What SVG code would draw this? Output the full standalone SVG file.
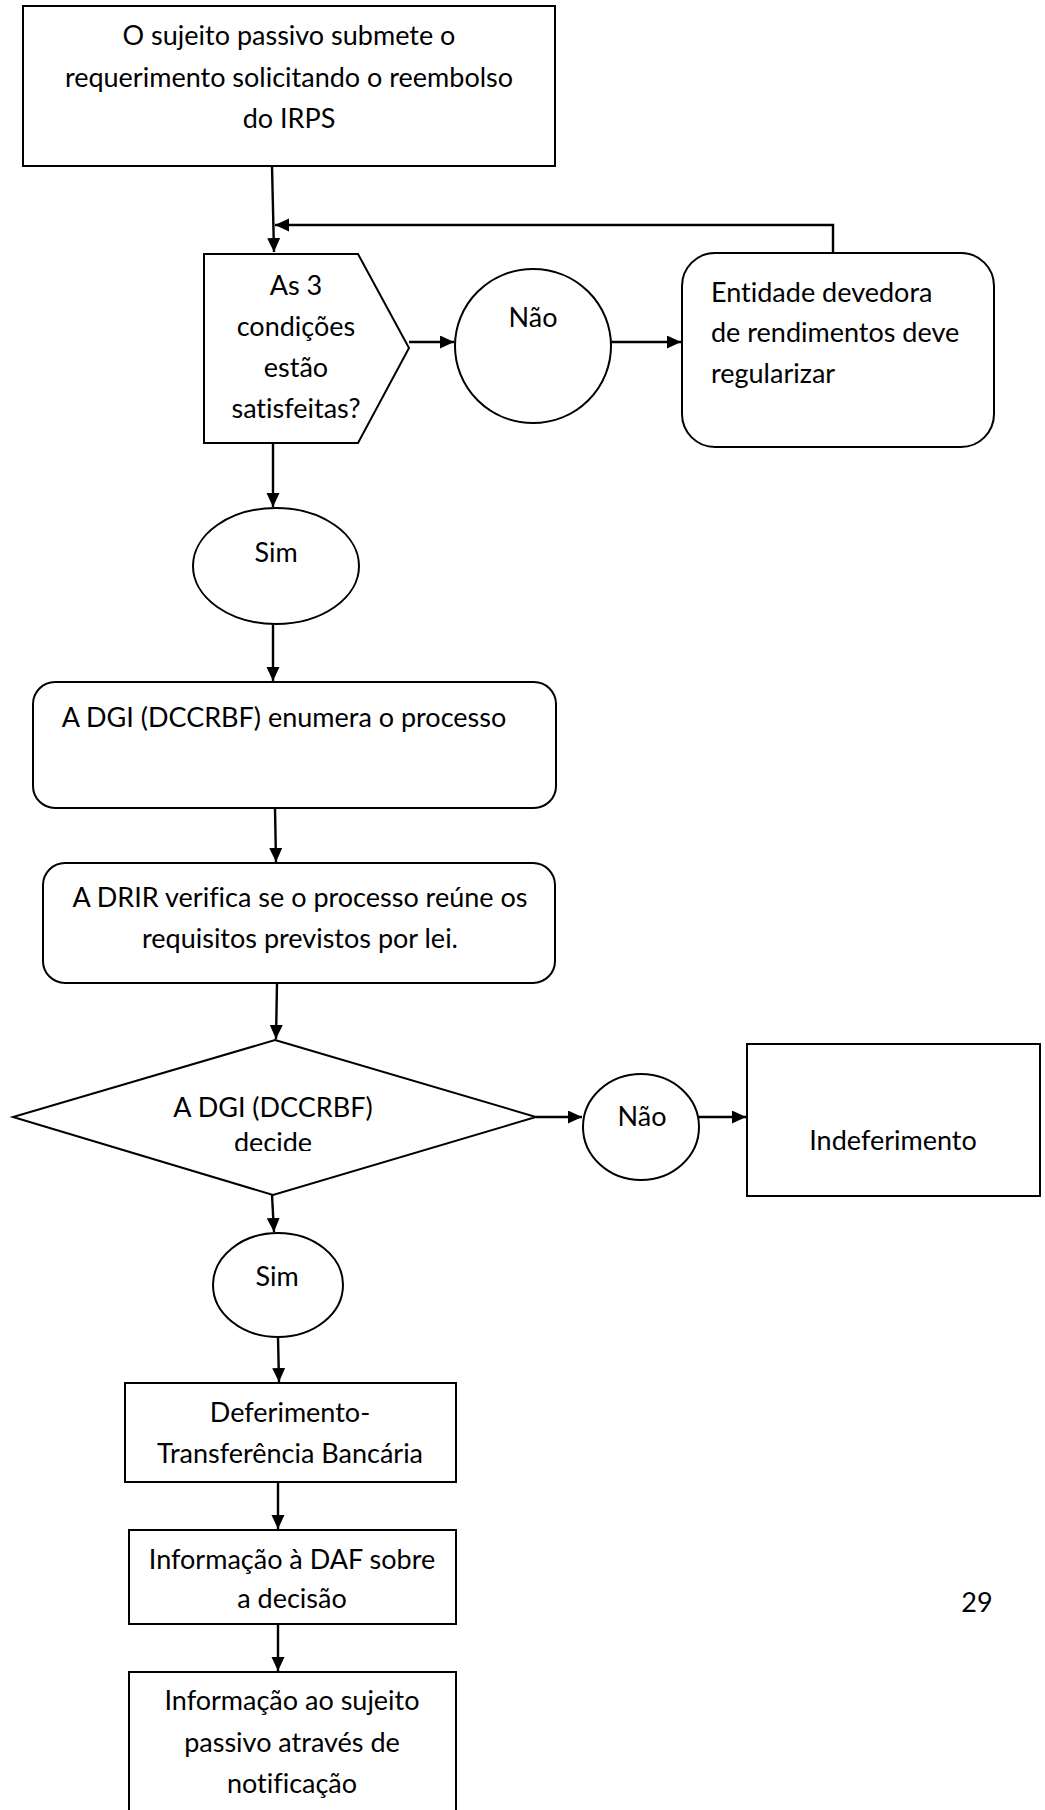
<svg xmlns="http://www.w3.org/2000/svg" width="1045" height="1810" viewBox="0 0 1045 1810">
<style>
.s{fill:#fff;stroke:#000;stroke-width:2}
.t{font-family:Lato,"Liberation Sans",sans-serif;font-size:27px;fill:#000;text-anchor:middle;font-variant-ligatures:none;font-feature-settings:"liga" 0}
.l{text-anchor:start}
.c{fill:none;stroke:#000;stroke-width:2.4}
</style>
<defs>
<marker id="ah" markerUnits="userSpaceOnUse" markerWidth="15" markerHeight="14" refX="14" refY="6.5" orient="auto">
<path d="M0,0 L14,6.5 L0,13 z" fill="#000"/>
</marker>
<clipPath id="clipDecide"><rect x="0" y="1080" width="560" height="71"/></clipPath>
</defs>
<rect width="1045" height="1810" fill="#fff"/>
<g id="connectors">
<path class="c" d="M272,166 L274,252" marker-end="url(#ah)"/>
<path class="c" d="M833,253 L833,225 L275,225" marker-end="url(#ah)"/>
<path class="c" d="M409,342 L454,342" marker-end="url(#ah)"/>
<path class="c" d="M611,342 L681,342" marker-end="url(#ah)"/>
<path class="c" d="M273,443 L273,507" marker-end="url(#ah)"/>
<path class="c" d="M273,623 L273,681" marker-end="url(#ah)"/>
<path class="c" d="M275,808 L276,862" marker-end="url(#ah)"/>
<path class="c" d="M277,983 L276,1039" marker-end="url(#ah)"/>
<path class="c" d="M536,1117 L582,1117" marker-end="url(#ah)"/>
<path class="c" d="M699,1117 L746,1117" marker-end="url(#ah)"/>
<path class="c" d="M272,1195 L274,1232" marker-end="url(#ah)"/>
<path class="c" d="M278,1337 L279,1382" marker-end="url(#ah)"/>
<path class="c" d="M278,1482 L278,1529" marker-end="url(#ah)"/>
<path class="c" d="M278,1624 L278,1671" marker-end="url(#ah)"/>
</g>
<g id="n1">
<rect class="s" x="23" y="6" width="532" height="160"/>
<text class="t" x="289" y="45">O sujeito passivo submete o</text>
<text class="t" x="289" y="87">requerimento solicitando o reembolso</text>
<text class="t" x="289" y="128">do IRPS</text>
</g>
<g id="n2">
<polygon class="s" points="204,254 358,254 409,348 358,443 204,443"/>
<text class="t" x="296" y="295">As 3</text>
<text class="t" x="296" y="336">condições</text>
<text class="t" x="296" y="377">estão</text>
<text class="t" x="296" y="418">satisfeitas?</text>
</g>
<g id="n3">
<ellipse class="s" cx="533" cy="346" rx="78" ry="77"/>
<text class="t" x="533" y="327">Não</text>
</g>
<g id="n4">
<rect class="s" x="682" y="253" width="312" height="194" rx="33"/>
<text class="t l" x="711" y="302">Entidade devedora</text>
<text class="t l" x="711" y="342">de rendimentos deve</text>
<text class="t l" x="711" y="383">regularizar</text>
</g>
<g id="n5">
<ellipse class="s" cx="276" cy="566" rx="83" ry="58"/>
<text class="t" x="276" y="562">Sim</text>
</g>
<g id="n6">
<rect class="s" x="33" y="682" width="523" height="126" rx="22"/>
<text class="t" x="284" y="727">A DGI (DCCRBF) enumera o processo</text>
</g>
<g id="n7">
<rect class="s" x="43" y="863" width="512" height="120" rx="22"/>
<text class="t" x="300" y="907">A DRIR verifica se o processo reúne os</text>
<text class="t" x="300" y="948">requisitos previstos por lei.</text>
</g>
<g id="n8">
<polygon class="s" points="275,1040 536,1117 273,1195 13,1117"/>
<text class="t" x="273" y="1117">A DGI (DCCRBF)</text>
<text class="t" x="273" y="1152" clip-path="url(#clipDecide)">decide</text>
</g>
<g id="n9">
<ellipse class="s" cx="641" cy="1127" rx="58" ry="53"/>
<text class="t" x="642" y="1126">Não</text>
</g>
<g id="n10">
<rect class="s" x="747" y="1044" width="293" height="152"/>
<text class="t" x="893" y="1150">Indeferimento</text>
</g>
<g id="n11">
<ellipse class="s" cx="278" cy="1285" rx="65" ry="52"/>
<text class="t" x="277" y="1286">Sim</text>
</g>
<g id="n12">
<rect class="s" x="125" y="1383" width="331" height="99"/>
<text class="t" x="290" y="1422">Deferimento-</text>
<text class="t" x="290" y="1463">Transferência Bancária</text>
</g>
<g id="n13">
<rect class="s" x="129" y="1530" width="327" height="94"/>
<text class="t" x="292" y="1569">Informação à DAF sobre</text>
<text class="t" x="292" y="1608">a decisão</text>
</g>
<g id="n14">
<rect class="s" x="129" y="1672" width="327" height="160"/>
<text class="t" x="292" y="1710">Informação ao sujeito</text>
<text class="t" x="292" y="1752">passivo através de</text>
<text class="t" x="292" y="1793">notificação</text>
</g>
<text class="t" x="977" y="1612">29</text>
</svg>
